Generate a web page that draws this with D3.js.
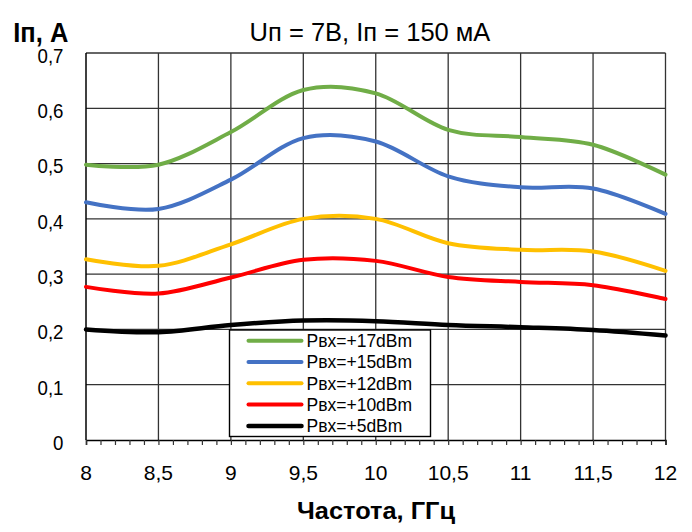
<!DOCTYPE html>
<html>
<head>
<meta charset="utf-8">
<script src="https://cdn.jsdelivr.net/npm/d3@7"></script>
<style>
  body { margin: 0; background: #fff; }
  text { font-family: "Liberation Sans", Arial, sans-serif; fill: #000; }
</style>
</head>
<body>
<div id="main"></div>
<script>
const ctx = {
    w: 692,
    h: 532,
    left: 86,
    right: 665.5,
    top: 53,
    bottom: 440,
    GRID: "#333",
};

// frequency points, GHz
const FREQS = [8, 8.5, 9, 9.5, 10, 10.5, 11, 11.5, 12];
// supply current, A, one array per input power
const P17 = [0.498, 0.498, 0.557, 0.633, 0.627, 0.561, 0.548, 0.534, 0.480];
const P15 = [0.430, 0.418, 0.471, 0.546, 0.540, 0.477, 0.457, 0.455, 0.409];
const P12 = [0.327, 0.315, 0.354, 0.400, 0.400, 0.356, 0.344, 0.341, 0.306];
const P10 = [0.277, 0.265, 0.294, 0.326, 0.324, 0.295, 0.286, 0.280, 0.255];
const P5 = [0.200, 0.195, 0.208, 0.216, 0.215, 0.208, 0.204, 0.199, 0.189];

const SERIES_NAMES = ["Рвх=+17dBm", "Рвх=+15dBm", "Рвх=+12dBm", "Рвх=+10dBm", "Рвх=+5dBm"];
const SERIES_COLORS = ["#70AD47", "#4472C4", "#FFC000", "#FF0000", "#000000"];
const SERIES_VALUES = [P17, P15, P12, P10, P5];

const X_TICKS = [8, 8.5, 9, 9.5, 10, 10.5, 11, 11.5, 12];
const Y_TICKS = [0, 0.1, 0.2, 0.3, 0.4, 0.5, 0.6, 0.7];

const TITLE = "Uп = 7В, Iп = 150 мА";
const Y_TITLE = "Iп, А";
const X_TITLE = "Частота, ГГц";

const fmt = (d) => String(d).replace(".", ",");

function createViz() {
    let svgEl = d3.select("#main").append("svg")
        .attr("width", ctx.w)
        .attr("height", ctx.h);
    svgEl.append("rect").attr("width", ctx.w).attr("height", ctx.h).attr("fill", "#fff");

    let x = d3.scaleLinear().domain([8, 12]).range([ctx.left, ctx.right]);
    let y = d3.scaleLinear().domain([0, 0.7]).range([ctx.bottom, ctx.top]);

    // grid
    let grid = svgEl.append("g").attr("id", "grid");
    grid.selectAll("line.h")
        .data(Y_TICKS.slice(1))
        .enter().append("line")
        .attr("x1", ctx.left).attr("x2", ctx.right)
        .attr("y1", (d) => y(d)).attr("y2", (d) => y(d))
        .attr("stroke", ctx.GRID).attr("stroke-width", 1.3);
    grid.selectAll("line.v")
        .data(X_TICKS.slice(1))
        .enter().append("line")
        .attr("x1", (d) => x(d)).attr("x2", (d) => x(d))
        .attr("y1", ctx.top).attr("y2", ctx.bottom)
        .attr("stroke", ctx.GRID).attr("stroke-width", 1.3);

    // minor ticks every 0.1 GHz under the x axis
    let xAxis = d3.axisBottom(x)
        .tickValues(d3.range(80, 121).map((d) => d / 10))
        .tickSize(5)
        .tickFormat("");
    let xAxisG = svgEl.append("g")
        .attr("transform", `translate(0,${ctx.bottom})`)
        .call(xAxis);
    xAxisG.select(".domain").attr("stroke", "#000").attr("stroke-width", 1.5);
    xAxisG.selectAll(".tick line").attr("stroke", ctx.GRID).attr("stroke-width", 1.2);

    svgEl.append("line")
        .attr("x1", ctx.left).attr("x2", ctx.left)
        .attr("y1", ctx.top).attr("y2", ctx.bottom)
        .attr("stroke", "#000").attr("stroke-width", 1.5);

    // tick labels
    svgEl.append("g").selectAll("text")
        .data(X_TICKS)
        .enter().append("text")
        .attr("x", (d) => x(d))
        .attr("y", 480)
        .attr("text-anchor", "middle")
        .style("font-size", "21px")
        .text(fmt);
    svgEl.append("g").selectAll("text")
        .data(Y_TICKS)
        .enter().append("text")
        .attr("transform", (d) => `translate(63.5,${y(d) + 9.8}) scale(0.89,1)`)
        .attr("text-anchor", "end")
        .style("font-size", "21px")
        .text(fmt);

    // curves
    let line = d3.line()
        .x((d, i) => x(FREQS[i]))
        .y((d) => y(d))
        .curve(d3.curveCardinal.tension(0));
    svgEl.append("g").selectAll("path")
        .data(SERIES_VALUES)
        .enter().append("path")
        .attr("d", (d) => line(d))
        .attr("fill", "none")
        .attr("stroke", (d, i) => SERIES_COLORS[i])
        .attr("stroke-width", (d, i) => (i == 4 ? 4.5 : 4))
        .attr("stroke-linecap", "round");

    // legend
    let legendG = svgEl.append("g").attr("transform", "translate(229.5,330)");
    legendG.append("rect")
        .attr("width", 201).attr("height", 106.5)
        .attr("fill", "#fff").attr("stroke", "#000").attr("stroke-width", 1.4);
    let rows = legendG.selectAll("g.row")
        .data(SERIES_NAMES)
        .enter().append("g")
        .attr("transform", (d, i) => `translate(0,${10.7 + i * 21.3})`);
    rows.append("line")
        .attr("x1", 19).attr("x2", 72)
        .attr("stroke", (d, i) => SERIES_COLORS[i])
        .attr("stroke-width", (d, i) => (i == 4 ? 4.5 : 4))
        .attr("stroke-linecap", "round");
    rows.append("text")
        .attr("x", 77)
        .attr("y", 6.3)
        .style("font-size", "17.5px")
        .text((d) => d);

    // titles
    svgEl.append("text")
        .attr("x", 370).attr("y", 40.7)
        .attr("text-anchor", "middle")
        .style("font-size", "25.5px")
        .text(TITLE);
    svgEl.append("text")
        .attr("x", 13.3).attr("y", 42)
        .attr("textLength", 55).attr("lengthAdjust", "spacingAndGlyphs")
        .style("font-size", "28px").style("font-weight", "bold")
        .text(Y_TITLE);
    svgEl.append("text")
        .attr("x", 297).attr("y", 519.3)
        .attr("textLength", 158).attr("lengthAdjust", "spacingAndGlyphs")
        .style("font-size", "23.5px").style("font-weight", "bold")
        .text(X_TITLE);
};

createViz();
</script>
</body>
</html>
